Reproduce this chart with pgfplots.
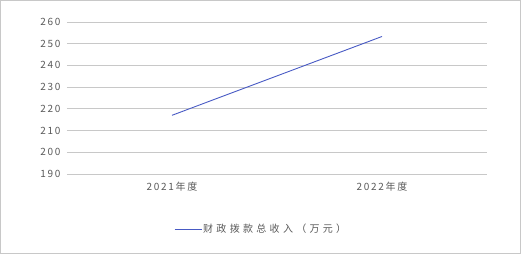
\documentclass[border=0pt]{standalone}
\usepackage{pgfplots}
\pgfplotsset{compat=1.18}
\usepackage{fontspec}
\setmainfont{Noto Sans CJK SC}
\newfontfamily\tickfont[LetterSpace=17]{Noto Sans CJK SC}
\newfontfamily\legfont[LetterSpace=33]{Noto Sans CJK SC}
\definecolor{txt}{RGB}{89,89,89}
\definecolor{grd}{RGB}{200,200,200}
\definecolor{ser}{RGB}{72,90,196}
\definecolor{frm}{RGB}{200,200,200}
\begin{document}
\begin{tikzpicture}[x=1pt,y=1pt]
\draw[frm,line width=0.8pt] (0.5,0.5) rectangle (520.5,253.5);
\begin{axis}[
  at={(67pt,80pt)}, anchor=south west,
  width=420pt, height=152pt, scale only axis,
  xmin=-0.5, xmax=1.5, ymin=190, ymax=260,
  xtick={0,1}, xticklabels={2021年度,2022年度},
  ytick={190,200,...,260},
  axis line style={draw=none},
  ymajorgrids, grid style={grd, line width=0.7pt},
  major tick length=0pt,
  tick label style={font=\tickfont\fontsize{10}{12}\selectfont, text=txt},
  /pgf/number format/assume math mode=true,
  yticklabel style={xshift=-3pt},
  xticklabel style={yshift=-5pt},
  legend style={draw=none, fill=none, inner sep=0pt, at={(0.255,-0.362)}, anchor=west,
    font=\legfont\fontsize{10}{12}\selectfont, text=txt,
    nodes={inner sep=1pt}},
  legend cell align=left,
  legend image code/.code={\draw[#1] (0pt,0pt) -- (27pt,0pt);},
  clip=false,
]
\addplot[ser, line width=0.9pt] coordinates {(0,217.0) (1,253.3)};
\addlegendentry{财政拨款总收入（万元）}
\end{axis}
\end{tikzpicture}
\end{document}
